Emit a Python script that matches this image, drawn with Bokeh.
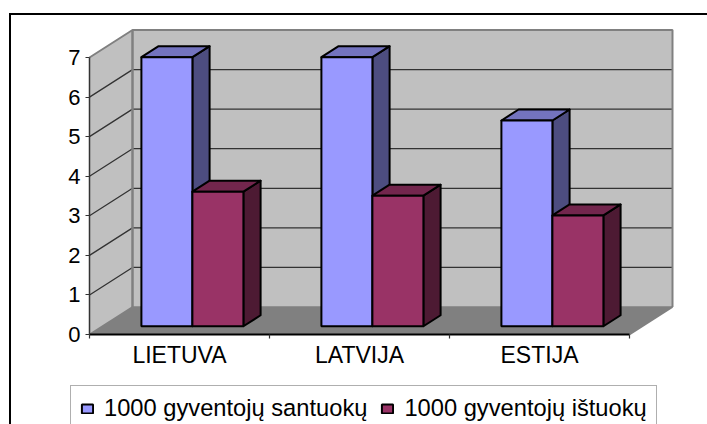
from bokeh.plotting import figure
from bokeh.models import (LinearAxis, FixedTicker, Range1d, Legend, LegendItem,
                          InlineStyleSheet, ColumnDataSource)
from bokeh.embed import file_html
from bokeh.resources import INLINE

categories = ["LIETUVA", "LATVIJA", "ESTIJA"]
marriages = [6.8, 6.8, 5.2]
divorces = [3.4, 3.3, 2.8]
series_names = ["1000 gyventojų santuokų", "1000 gyventojų ištuokų"]
y_ticks = [0, 1, 2, 3, 4, 5, 6, 7]

FONT = "Liberation Sans"
UX, UY = 180, 39.57                  # pixels per category / per unit of value
DX, DY = 43 / UX, 27.5 / UY          # depth of the 3-D box, in data units
BAR_W = 51 / UX
F0, F1 = 0.3, 0.7                    # front / back of the bars inside the depth
YMAX = 7
W, H = 707, 424
LEFT, BASE = 89, 334                 # pixel position of the data origin

frame_css = InlineStyleSheet(css=""":host::after {content: ""; position: absolute; left: 9px; top: 13px;
 right: 0; bottom: 0; border-left: 2px solid #000; border-top: 2px solid #000; pointer-events: none;}""")

p = figure(width=W, height=H, output_backend="svg", toolbar_location=None,
           x_range=Range1d(-LEFT / UX, (W - LEFT) / UX),
           y_range=Range1d(-(H - BASE) / UY, BASE / UY),
           x_axis_type=None, y_axis_type=None,
           min_border_left=0, min_border_right=0, min_border_top=0, min_border_bottom=0,
           outline_line_color=None, background_fill_color="white", border_fill_color="white",
           stylesheets=[frame_css])
p.grid.visible = False

n = len(categories)
WALL, FLOOR, EDGE = "#C0C0C0", "#808080", "#808080"

# walls and floor
p.patch([0, DX, DX, 0], [0, DY, YMAX + DY, YMAX], fill_color=WALL, line_color=None)
p.patch([DX, n + DX, n + DX, DX], [DY, DY, YMAX + DY, YMAX + DY], fill_color=WALL, line_color=None)
p.patch([0, n, n + DX, DX], [0, 0, DY, DY], fill_color=FLOOR, line_color=None)

# gridlines
for v in y_ticks[1:-1]:
    p.line([0, DX, n + DX], [v, v + DY, v + DY], line_color="#333333", line_width=1.3)

# wall edges
p.line([0, DX, n + DX, n + DX], [YMAX, YMAX + DY, YMAX + DY, DY], line_color=EDGE, line_width=2)
p.line([DX, DX], [DY, YMAX + DY], line_color=EDGE, line_width=2.5)
p.line([0, DX], [0, DY], line_color=EDGE, line_width=1.5)
p.line([DX, n + DX], [DY, DY], line_color=EDGE, line_width=1.5)
p.line([n, n + DX], [0, DY], line_color=EDGE, line_width=1.5)


def draw_bars(values, offset, front, top, side):
    ax0, ay0 = DX * F0, DY * F0
    bx, by = DX * (F1 - F0), DY * (F1 - F0)
    lefts = [i + 0.5 + offset * BAR_W + ax0 for i in range(n)]
    rights = [l + BAR_W for l in lefts]
    # side and top faces
    p.patches([[r, r + bx, r + bx, r] for r in rights],
              [[ay0, ay0 + by, ay0 + by + v, ay0 + v] for v in values],
              fill_color=side, line_color="black", line_width=2, line_join="round")
    p.patches([[l, r, r + bx, l + bx] for l, r in zip(lefts, rights)],
              [[ay0 + v, ay0 + v, ay0 + v + by, ay0 + v + by] for v in values],
              fill_color=top, line_color="black", line_width=2, line_join="round")
    src = ColumnDataSource(dict(left=lefts, right=rights, bottom=[ay0] * n,
                                top=[ay0 + v for v in values]))
    return p.quad(left="left", right="right", bottom="bottom", top="top", source=src,
                  fill_color=front, line_color="black", line_width=2)


r1 = draw_bars(marriages, -1, "#9999FF", "#7373BF", "#4D4D80")
r2 = draw_bars(divorces, 0, "#993366", "#73264D", "#4D1A33")

# axes
yax = LinearAxis(ticker=FixedTicker(ticks=y_ticks), bounds=(0, YMAX), fixed_location=0,
                 axis_line_color="#333333", axis_line_width=1.5,
                 major_tick_line_color="#333333", major_tick_line_width=1.2,
                 major_tick_in=0, major_tick_out=4, minor_tick_line_color=None,
                 major_label_standoff=5, major_label_text_font=FONT,
                 major_label_text_font_size="22px", major_label_text_color="black")
p.add_layout(yax, "left")

xax = LinearAxis(ticker=FixedTicker(ticks=[i + 0.5 for i in range(n)],
                                    minor_ticks=list(range(n + 1))),
                 bounds=(0, n), fixed_location=0,
                 major_label_overrides={i + 0.5: c for i, c in enumerate(categories)},
                 axis_line_color="black", axis_line_width=2,
                 major_tick_line_color=None, major_tick_in=0, major_tick_out=4,
                 minor_tick_line_color="#333333", minor_tick_line_width=1.2,
                 minor_tick_in=0, minor_tick_out=4,
                 major_label_standoff=3, major_label_text_font=FONT,
                 major_label_text_font_size="23px", major_label_text_color="black")
p.add_layout(xax, "below")

legend = Legend(items=[LegendItem(label=series_names[0], renderers=[r1]),
                       LegendItem(label=series_names[1], renderers=[r2])],
                orientation="horizontal", location=(70, -8), margin=0, padding=9,
                spacing=13, glyph_width=14, glyph_height=11, label_standoff=10,
                label_height=10, label_text_line_height=0.7,
                label_text_font=FONT, label_text_font_size="23.7px", label_text_color="black",
                border_line_color="#606060", border_line_width=1.5,
                background_fill_color="white", background_fill_alpha=1)
p.add_layout(legend)

open("out.html", "w").write(file_html(p, INLINE))
